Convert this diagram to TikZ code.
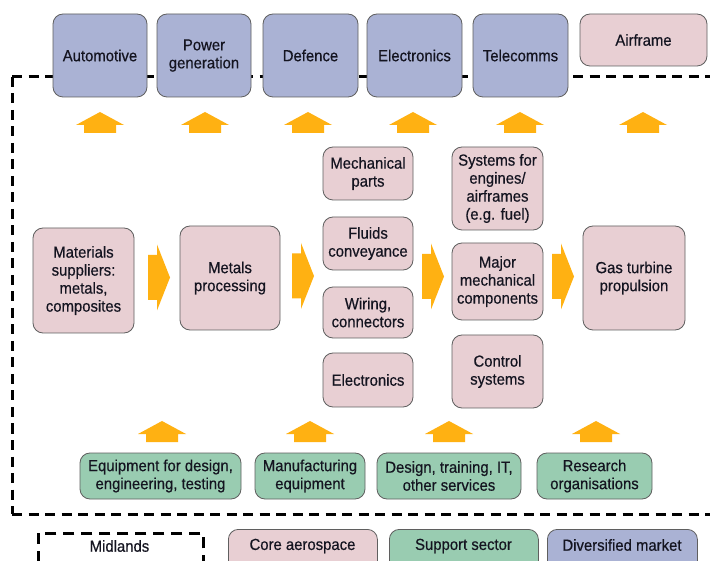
\documentclass[tikz,border=0pt]{standalone}
\usepackage{fontspec}
\setmainfont{Liberation Sans}[FakeStretch=0.93,FakeBold=0.5]
\definecolor{divblue}{RGB}{170,178,212}
\definecolor{corepink}{RGB}{232,207,211}
\definecolor{suppgreen}{RGB}{153,204,177}
\definecolor{arrorange}{RGB}{255,177,18}
\definecolor{edgegray}{RGB}{95,95,95}
\definecolor{inkdark}{RGB}{20,20,32}
\tikzset{
  txt/.style={font=\fontsize{16}{18}\selectfont, text=inkdark, align=center, inner sep=0pt},
  boxbase/.style={txt, draw=edgegray, line width=0.8pt, rounded corners=10pt},
  bluebox/.style={boxbase, fill=divblue},
  pinkbox/.style={boxbase, fill=corepink},
  greenbox/.style={boxbase, fill=suppgreen},
  sz/.style 2 args={minimum width=#1, minimum height=#2},
  frameline/.style={line width=3pt, dash pattern=on 10pt off 6.5pt},
  legdash/.style={draw, line width=2.5pt, dash pattern=on 11pt off 7pt},
  pics/uparr/.style={code={
    \fill[arrorange] (-24,13) -- (0,0) -- (24,13) -- (16,13) -- (16,21) -- (-16,21) -- (-16,13) -- cycle;}},
  pics/rtarr/.style={code={
    \fill[arrorange] (0,-22.5) -- (9,-22.5) -- (9,-33) -- (22,0) -- (9,33) -- (9,22.5) -- (0,22.5) -- cycle;}},
}
\begin{document}
\begin{tikzpicture}[x=1pt,y=-1pt]
\useasboundingbox (0,0) rectangle (710,561);
\clip (0,0) rectangle (710,561);
\fill[white] (0,0) rectangle (710,561);

% Midlands frame
\coordinate (ftl) at (12,77);
\coordinate (fbl) at (12,514);
\coordinate (ftr) at (725,77);
\coordinate (fbr) at (725,514);
\draw[frameline] (ftl) -- (ftr);
\draw[frameline] (ftl) -- (fbl);
\draw[frameline] (fbl) -- (fbr);

% diversified markets (top row)
\node[bluebox, sz={94}{83}] (auto) at (100,55.5) {Automotive};
\node[bluebox, sz={94}{83}] (power) at (204,55.5) {Power\\generation};
\node[bluebox, sz={95}{83}] (defence) at (310.5,55.5) {Defence};
\node[bluebox, sz={95}{83}] (elecm) at (414.5,55.5) {Electronics};
\node[bluebox, sz={95}{83}] (tele) at (520.5,55.5) {Telecomms};
\node[pinkbox, sz={127}{52}] (airframe) at (643.5,40) {Airframe};

% up arrows to markets
\foreach \cx in {100,205,308,413,520,643}
  \pic at (\cx,112) {uparr};

% core chain
\node[pinkbox, sz={101}{105}] (mat) at (83.5,280.5) {Materials\\suppliers:\\metals,\\composites};
\node[pinkbox, sz={100}{104}] (metals) at (230,278) {Metals\\processing};
\node[pinkbox, sz={90}{53}] (mech) at (368,173.5) {Mechanical\\parts};
\node[pinkbox, sz={90}{53}] (fluids) at (368,243.5) {Fluids\\conveyance};
\node[pinkbox, sz={90}{51}] (wiring) at (368,312.5) {Wiring,\\connectors};
\node[pinkbox, sz={90}{54}] (elecc) at (368,380) {Electronics};
\node[pinkbox, sz={91}{83}] (sys) at (497.5,188.5) {Systems for\\engines/\\airframes\\(e.g. fuel)};
\node[pinkbox, sz={91}{77}] (major) at (497.5,281.5) {Major\\mechanical\\components};
\node[pinkbox, sz={91}{73}] (control) at (497.5,371.5) {Control\\systems};
\node[pinkbox, sz={102}{104}] (gas) at (634,278) {Gas turbine\\propulsion};

% right arrows
\pic at (148,277.5) {rtarr};
\pic at (292,276) {rtarr};
\pic at (422,276.5) {rtarr};
\pic at (552,276.5) {rtarr};

% support sector
\foreach \cx in {162,310,449,596}
  \pic at (\cx,421) {uparr};
\node[greenbox, sz={161}{46}] (equip) at (160.5,476) {Equipment for design,\\engineering, testing};
\node[greenbox, sz={110}{46}] (manuf) at (310,476) {Manufacturing\\equipment};
\node[greenbox, sz={144}{46}] (design) at (449,476) {Design, training, IT,\\other services};
\node[greenbox, sz={115}{46}] (research) at (594.5,476) {Research\\organisations};

% legend
\node[legdash, sz={165}{48}, anchor=north west, inner sep=0pt] (lmid) at (37,532) {};
\node[txt] (lmidt) at (119.5,546) {Midlands};
\node[pinkbox, sz={149}{50}, anchor=north west] (lcore) at (228,529) {};
\node[txt] (lcoret) at (302.5,546) {Core aerospace};
\node[greenbox, sz={149}{50}, anchor=north west] (lsupp) at (389,529) {};
\node[txt] (lsuppt) at (463.5,546) {Support sector};
\node[bluebox, sz={150}{50}, anchor=north west] (ldiv) at (547,529) {};
\node[txt] (ldivt) at (622,545) {Diversified market};
\end{tikzpicture}
\end{document}
